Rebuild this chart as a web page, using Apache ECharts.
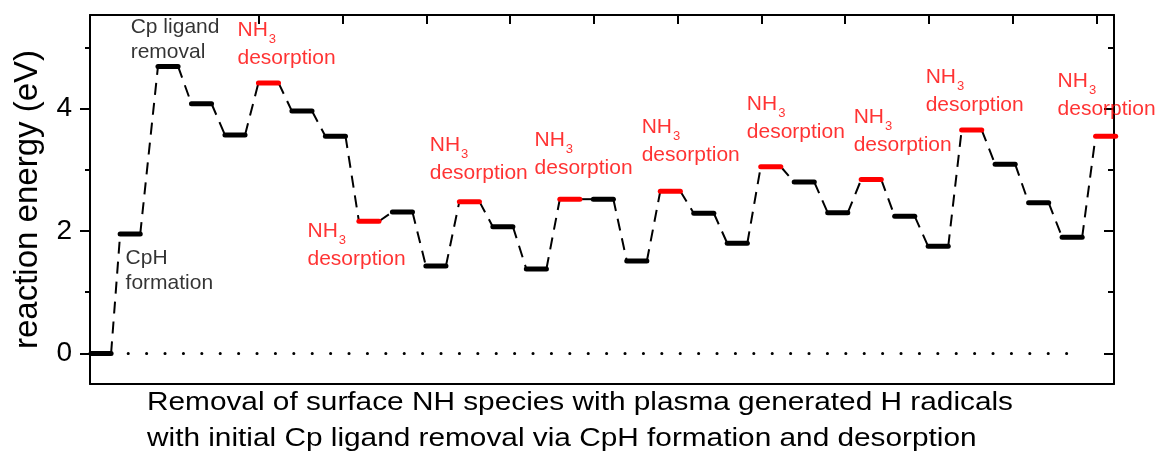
<!DOCTYPE html>
<html><head><meta charset="utf-8">
<script src="https://cdn.jsdelivr.net/npm/echarts@6/dist/echarts.min.js"></script>
<style>html,body{margin:0;padding:0;background:#fff;} #c{width:1160px;height:457px;}</style>
</head><body><div id="c"></div>
<script>
// ---- data ----
const levelX = [0, 0.87, 2, 3, 4, 5, 6, 7, 8, 9, 10, 11, 12, 13, 14, 15, 16, 17, 18, 19, 20, 21, 22, 23, 24, 25, 26, 27, 28, 29, 30];
const levelE = [0.00, 1.95, 4.69, 4.08, 3.57, 4.42, 3.96, 3.55, 2.16, 2.31, 1.43, 2.48, 2.07, 1.38, 2.52, 2.52, 1.51, 2.65, 2.29, 1.80, 3.05, 2.80, 2.30, 2.84, 2.24, 1.75, 3.65, 3.09, 2.46, 1.90, 3.55];
const desorbIdx = [5, 8, 11, 14, 17, 20, 23, 26, 30];
const zeroLine = [[0.81, 0], [29.12, 0]];
const nh3LabelPos = [[4.09, 5.446], [6.18, 2.162], [9.83, 3.567], [12.96, 3.649], [16.16, 3.861], [19.30, 4.237], [22.49, 4.025], [24.64, 4.678], [28.58, 4.613]];
const stepLabelText = ['Cp ligand\nremoval', 'CpH\nformation'];
const stepLabelPos = [[0.90, 5.528], [0.747, 1.75]];
const yMajorTicks = [0, 2, 4];
const yMinorTicks = [1, 3, 5];
const topTicks = [4.72, 7.22, 9.72, 12.22, 14.72, 17.22, 19.72, 22.22, 24.72, 27.22, 29.72];
const yName = 'reaction energy (eV)';
const xTitle = ['Removal of surface NH species with plasma generated H radicals', 'with initial Cp ligand removal via CpH formation and desorption'];

// ---- chart ----
const FONT = '"Liberation Sans", Arial, sans-serif';
const RED = '#ff0000';
const X_MIN = -0.33, X_MAX = 30.25, Y_MIN = -0.5, Y_MAX = 5.53;
const HALF = 0.3;

const levels = levelX.map((x, i) => [x - HALF, levelE[i], x + HALF, levelE[i], desorbIdx.includes(i) ? 1 : 0]);
const connectors = [];
for (let i = 0; i < levelX.length - 1; i++) {
  connectors.push([levelX[i] + HALF, levelE[i], levelX[i + 1] - HALF, levelE[i + 1]]);
}

function segRender(styleFn) {
  return function (params, api) {
    const p1 = api.coord([api.value(0), api.value(1)]);
    const p2 = api.coord([api.value(2), api.value(3)]);
    return { type: 'line', shape: { x1: p1[0], y1: p1[1], x2: p2[0], y2: p2[1] }, style: styleFn(api) };
  };
}

const frame = { show: true, onZero: false, lineStyle: { color: '#000', width: 2 } };
const noLine = { show: false, onZero: false };
const tickStyle = { color: '#000', width: 2 };
const xBase = { type: 'value', min: X_MIN, max: X_MAX, splitLine: { show: false }, axisLabel: { show: false } };
const yBase = { type: 'value', min: Y_MIN, max: Y_MAX, splitLine: { show: false } };

const chart = echarts.init(document.getElementById('c'), null, { renderer: 'canvas' });
chart.setOption({
  animation: false,
  backgroundColor: '#fff',
  grid: { left: 90, right: 46, top: 15, bottom: 73, containLabel: false },
  xAxis: [
    Object.assign({}, xBase, { position: 'bottom', axisLine: frame, axisTick: { show: false } }),
    Object.assign({}, xBase, { position: 'top', axisLine: frame, axisTick: { show: true, inside: true, length: 9, customValues: topTicks, lineStyle: tickStyle } })
  ],
  yAxis: [
    Object.assign({}, yBase, {
      position: 'left', axisLine: frame,
      axisTick: { show: true, inside: false, length: 10, customValues: yMajorTicks, lineStyle: tickStyle },
      axisLabel: { show: true, customValues: yMajorTicks, fontSize: 28, color: '#000', margin: 18, fontFamily: FONT },
      name: yName, nameLocation: 'middle', nameGap: 46, nameRotate: 90,
      nameTextStyle: { fontSize: 33, color: '#000', fontFamily: FONT }
    }),
    Object.assign({}, yBase, {
      position: 'left', axisLine: noLine,
      axisTick: { show: true, inside: false, length: 5, customValues: yMinorTicks, lineStyle: tickStyle },
      axisLabel: { show: false }
    }),
    Object.assign({}, yBase, {
      position: 'right', axisLine: frame,
      axisTick: { show: true, inside: true, length: 10, customValues: yMajorTicks, lineStyle: tickStyle },
      axisLabel: { show: false }
    }),
    Object.assign({}, yBase, {
      position: 'right', axisLine: noLine,
      axisTick: { show: true, inside: true, length: 6, customValues: yMinorTicks, lineStyle: tickStyle },
      axisLabel: { show: false }
    })
  ],
  series: [
    {
      type: 'custom', name: 'zero', z: 1,
      data: [[zeroLine[0][0], zeroLine[0][1], zeroLine[1][0], zeroLine[1][1]]],
      renderItem: segRender(() => ({ stroke: '#000', lineWidth: 3, lineDash: [0.1, 18.3], lineCap: 'round', fill: null }))
    },
    {
      type: 'custom', name: 'connectors', z: 2,
      data: connectors,
      renderItem: segRender(() => ({ stroke: '#000', lineWidth: 2, lineDash: [12, 8], fill: null }))
    },
    {
      type: 'custom', name: 'levels', z: 3,
      data: levels,
      renderItem: segRender((api) => ({ stroke: api.value(4) ? RED : '#000', lineWidth: 5, lineCap: 'round', fill: null }))
    },
    {
      type: 'scatter', name: 'nh3', z: 4, silent: true, symbolSize: 1,
      itemStyle: { color: 'rgba(0,0,0,0)' },
      label: {
        show: true, position: [0, 0], align: 'left', verticalAlign: 'top', textBorderWidth: 0,
        formatter: '{n|NH}{s|3}\n{d|desorption}',
        rich: {
          n: { fontSize: 21, lineHeight: 21, verticalAlign: 'top', color: RED, fontFamily: FONT },
          s: { fontSize: 13, lineHeight: 13, padding: [13, 0, 0, 1], verticalAlign: 'top', color: RED, fontFamily: FONT },
          d: { fontSize: 21, lineHeight: 35, color: RED, fontFamily: FONT }
        }
      },
      data: nh3LabelPos
    },
    {
      type: 'scatter', name: 'steps', z: 4, silent: true, symbolSize: 1,
      itemStyle: { color: 'rgba(0,0,0,0)' },
      label: {
        show: true, position: [0, 0], align: 'left', verticalAlign: 'top', textBorderWidth: 0,
        formatter: (p) => stepLabelText[p.dataIndex],
        fontSize: 21, lineHeight: 25, color: '#000', fontFamily: FONT
      },
      data: stepLabelPos
    }
  ],
  graphic: xTitle.map((t, i) => ({
    type: 'text', x: 147, y: 402.5 + i * 36, scaleX: 1.164,
    style: { text: t, x: 0, y: 0, fill: '#000', fontSize: 25.6, fontFamily: FONT, textAlign: 'left', textVerticalAlign: 'middle', align: 'left', verticalAlign: 'middle' }
  }))
});
</script>
</body></html>
